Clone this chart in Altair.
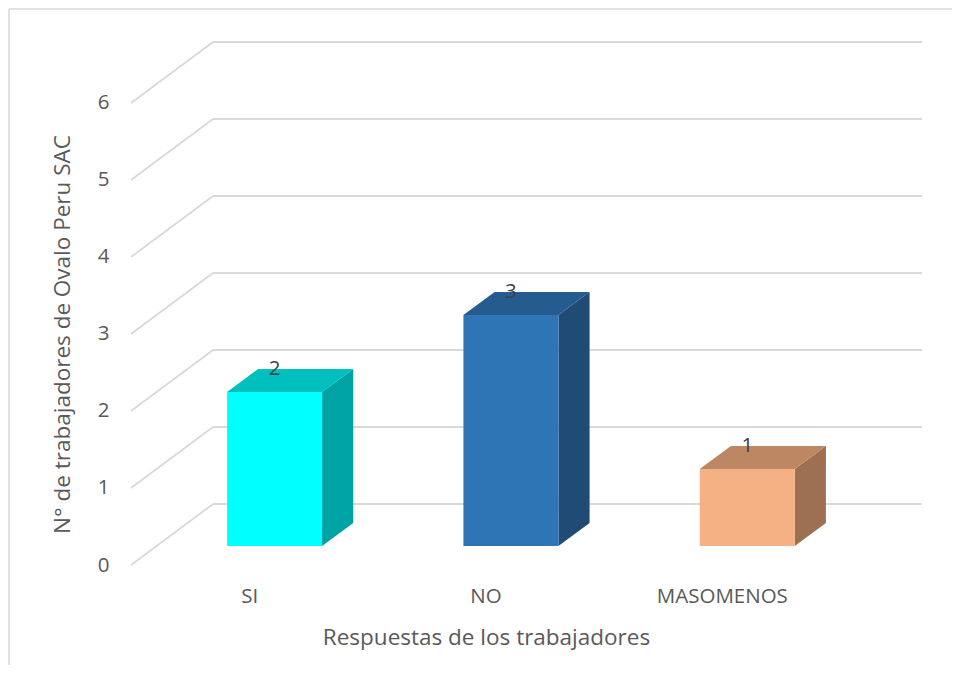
import json
import altair as alt
import pandas as pd

# ---- data ----
categorias = ["SI", "NO", "MASOMENOS"]
valores = [2, 3, 1]
ticks_y = [0, 1, 2, 3, 4, 5, 6]

# ---- styles ----
col_front = ["#00FFFF", "#2E75B6", "#F4B183"]
col_top = ["#00BFBF", "#255C8F", "#BE8764"]
col_side = ["#00A3A3", "#1F4B74", "#9C7050"]
grid_col = "#D9D9D9"
txt_col = "#595959"
FONT = "Open Sans"
FS = 20.5
TFS = 22.5

# ---- pseudo-3D geometry (in scale units) ----
DX = 0.347      # depth shift along x (category units)
DY = 0.792      # depth shift along y (value units)
F1, F2 = 0.31, 0.69   # bar front / back depth fractions
BW = 0.402      # bar width (category units)
n = len(categorias)

front_rows, top_rows, side_rows, lab_rows = [], [], [], []
for i, (c, v) in enumerate(zip(categorias, valores)):
    cx = i + 0.5
    left, right = cx - BW / 2, cx + BW / 2
    front_rows.append(dict(cat=c, key=c + "_f", x=left + F1 * DX, x2=right + F1 * DX,
                           y=F1 * DY, y2=v + F1 * DY))
    for f in (F1, F2):
        top_rows.append(dict(cat=c, key=c + "_t", y=v + f * DY,
                             x=left + f * DX, x2=right + f * DX))
        side_rows.append(dict(cat=c, key=c + "_s", x=right + f * DX,
                              y2=f * DY, y=v + f * DY))
    lab_rows.append(dict(cat=c, txt=str(v), x=cx + F1 * DX, y=v + F2 * DY))

grid_rows = []
for k in ticks_y:
    grid_rows.append(dict(x=0, y=k, x2=DX, y2=k + DY))
    grid_rows.append(dict(x=DX, y=k + DY, x2=n + DX, y2=k + DY))

keys = [c + s for c in categorias for s in ("_f", "_t", "_s")]
rng = []
for i in range(n):
    rng += [col_front[i], col_top[i], col_side[i]]
color_scale = alt.Scale(domain=keys, range=rng)

xs = alt.Scale(domain=[0, n + DX], nice=False, zero=False)
ys = alt.Scale(domain=[0, 6 + DY], nice=False, zero=False)

W, H = 791, 523

label_expr = "%s[floor(datum.value)]" % json.dumps(categorias)

ax_x = alt.Axis(
    values=[i + 0.5 for i in range(n)], labelExpr=label_expr,
    title="Respuestas de los trabajadores", domain=False, ticks=False, grid=False,
    labelPadding=21, labelFontSize=FS, labelColor=txt_col, labelFont=FONT,
    titleFontSize=TFS, titleColor=txt_col, titleFont=FONT, titleFontWeight="normal",
    titleX=355, titleY=72, titleBaseline="middle")
ax_y = alt.Axis(
    values=ticks_y, title="N° de trabajadores de Ovalo Peru SAC",
    domain=False, ticks=False, grid=False, labelPadding=22,
    labelFontSize=FS, labelColor=txt_col, labelFont=FONT,
    titleFontSize=TFS, titleColor=txt_col, titleFont=FONT, titleFontWeight="normal",
    titleX=-69, titleY=292, titleBaseline="middle")


def X(f):
    return alt.X(f, scale=xs, axis=ax_x)


def Y(f):
    return alt.Y(f, scale=ys, axis=ax_y)


col = alt.Color("key:N", scale=color_scale, legend=None)

grid = alt.Chart(pd.DataFrame(grid_rows)).mark_rule(color=grid_col, strokeWidth=1.8).encode(
    x=X("x:Q"), x2="x2:Q", y=Y("y:Q"), y2="y2:Q")

front = alt.Chart(pd.DataFrame(front_rows)).mark_rect().encode(
    x=X("x:Q"), x2="x2:Q", y=Y("y:Q"), y2="y2:Q", color=col)

top = alt.Chart(pd.DataFrame(top_rows)).mark_area(orient="horizontal").encode(
    y=Y("y:Q"), x=X("x:Q"), x2="x2:Q", detail="cat:N", color=col)

side = alt.Chart(pd.DataFrame(side_rows)).mark_area(orient="vertical").encode(
    x=X("x:Q"), y=Y("y:Q"), y2="y2:Q", detail="cat:N", color=col)

labels = alt.Chart(pd.DataFrame(lab_rows)).mark_text(
    font=FONT, fontSize=FS, color="#404040", baseline="alphabetic", dy=6
).encode(x=X("x:Q"), y=Y("y:Q"), text="txt:N")

border_top = alt.Chart(pd.DataFrame({"a": [0]})).mark_rule(color=grid_col, strokeWidth=1.5).encode(
    x=alt.value(-122), x2=alt.value(W + 40), y=alt.value(-33))
border_left = alt.Chart(pd.DataFrame({"a": [0]})).mark_rule(color=grid_col, strokeWidth=1.5).encode(
    x=alt.value(-122), y=alt.value(-33), y2=alt.value(H + 120))

chart = alt.layer(grid, side, top, front, labels, border_top, border_left).properties(
    width=W, height=H,
    padding={"left": 123, "top": 34, "right": 30, "bottom": 100},
    autosize=alt.AutoSizeParams(type="none"),
).configure(
    background="white",
    view=alt.ViewConfig(stroke="transparent", strokeWidth=0),
)

chart.save("out.html", embed_options={"renderer": "svg", "actions": False})
